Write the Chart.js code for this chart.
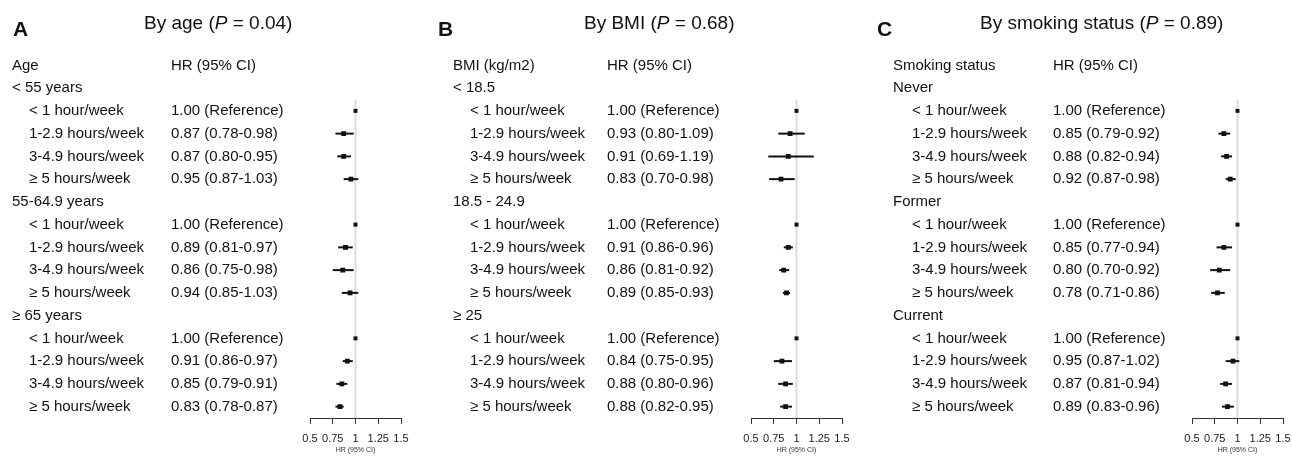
<!DOCTYPE html>
<html>
<head>
<meta charset="utf-8">
<script src="https://cdn.jsdelivr.net/npm/chart.js@4.4.1/dist/chart.umd.min.js"></script>
<style>
html,body{margin:0;padding:0;background:#fff;overflow:hidden;}
#wrap{position:relative;width:1292px;height:457px;overflow:hidden;}
#wrap canvas{position:absolute;left:0;top:0;}
</style>
</head>
<body>
<div id="wrap">
<canvas id="cA" width="1320" height="457"></canvas>
<canvas id="cB" width="1320" height="457"></canvas>
<canvas id="cC" width="1320" height="457"></canvas>
</div>
<script>
// ---------- data ----------
const subgroupLabels = ['< 1 hour/week', '1-2.9 hours/week', '3-4.9 hours/week', '≥ 5 hours/week'];
const xTickValues = [0.5, 0.75, 1, 1.25, 1.5];
const axisTitle = 'HR (95% CI)';
const columnHeaderHR = 'HR (95% CI)';

const ageGroups = ['< 55 years', '55-64.9 years', '≥ 65 years'];
const ageHR   = [1.00, 0.87, 0.87, 0.95, 1.00, 0.89, 0.86, 0.94, 1.00, 0.91, 0.85, 0.83];
const ageLow  = [null, 0.78, 0.80, 0.87, null, 0.81, 0.75, 0.85, null, 0.86, 0.79, 0.78];
const ageHigh = [null, 0.98, 0.95, 1.03, null, 0.97, 0.98, 1.03, null, 0.97, 0.91, 0.87];

const bmiGroups = ['< 18.5', '18.5 - 24.9', '≥ 25'];
const bmiHR   = [1.00, 0.93, 0.91, 0.83, 1.00, 0.91, 0.86, 0.89, 1.00, 0.84, 0.88, 0.88];
const bmiLow  = [null, 0.80, 0.69, 0.70, null, 0.86, 0.81, 0.85, null, 0.75, 0.80, 0.82];
const bmiHigh = [null, 1.09, 1.19, 0.98, null, 0.96, 0.92, 0.93, null, 0.95, 0.96, 0.95];

const smokeGroups = ['Never', 'Former', 'Current'];
const smokeHR   = [1.00, 0.85, 0.88, 0.92, 1.00, 0.85, 0.80, 0.78, 1.00, 0.95, 0.87, 0.89];
const smokeLow  = [null, 0.79, 0.82, 0.87, null, 0.77, 0.70, 0.71, null, 0.87, 0.81, 0.83];
const smokeHigh = [null, 0.92, 0.94, 0.98, null, 0.94, 0.92, 0.86, null, 1.02, 0.94, 0.96];

const panelLetters = ['A', 'B', 'C'];
const panelTitles = ['By age', 'By BMI', 'By smoking status'];
const panelP = ['0.04', '0.68', '0.89'];
const panelHeaders = ['Age', 'BMI (kg/m2)', 'Smoking status'];

// ---------- layout (positions/styles only) ----------
const FAMILY = '"Liberation Sans", Arial, Helvetica, sans-serif';
const layouts = [
  {canvas:'cA', letterX:13,  titleX:144, labelX:12,  subX:29,  hrX:171,  x0:310,  x1:401},
  {canvas:'cB', letterX:438, titleX:584, labelX:453, subX:470, hrX:607,  x0:751,  x1:842},
  {canvas:'cC', letterX:877, titleX:980, labelX:893, subX:912, hrX:1053, x0:1192, x1:1283}
];
const W = 1320, H = 457;
const TOP_PAD = 54, AXIS_H = 39;

const panelsData = [
  {groups: ageGroups,   hr: ageHR,   lo: ageLow,   hi: ageHigh},
  {groups: bmiGroups,   hr: bmiHR,   lo: bmiLow,   hi: bmiHigh},
  {groups: smokeGroups, hr: smokeHR, lo: smokeLow, hi: smokeHigh}
];

function fmt(v){ return v.toFixed(2); }

function buildPanel(pi){
  const L = layouts[pi];
  const d = panelsData[pi];
  const rows = [];
  d.groups.forEach((g, gi) => {
    rows.push({type:'group', text:g, idx: 1 + gi*5});
    subgroupLabels.forEach((s, si) => {
      const k = gi*4 + si;
      rows.push({type:'sub', text:s, idx: 2 + gi*5 + si, k});
    });
  });
  const subRows = rows.filter(r => r.type === 'sub');

  const datasets = [];
  datasets.push({
    type:'scatter',
    data: subRows.map(r => ({x: d.hr[r.k], y: r.idx})),
    pointStyle:'rect',
    pointRadius: subRows.map(r => d.lo[r.k] == null ? 2.8 : 3.4),
    backgroundColor:'#111', borderColor:'#111', borderWidth:0,
    order:1
  });
  subRows.forEach(r => {
    if (d.lo[r.k] == null) return;
    datasets.push({
      type:'scatter',
      data:[{x:d.lo[r.k], y:r.idx}, {x:d.hi[r.k], y:r.idx}],
      showLine:true, borderColor:'#111', borderWidth:2,
      pointRadius:0, order:2
    });
  });
  datasets.push({
    type:'scatter',
    data:[{x:1, y:1.5}, {x:1, y:15.5}],
    showLine:true, borderColor:'#dcdcdc', borderWidth:2,
    pointRadius:0, order:3
  });

  const textPlugin = {
    id:'forestText' + pi,
    afterDraw(chart){
      const ctx = chart.ctx;
      const ys = chart.scales.y;
      ctx.save();
      ctx.fillStyle = '#111';
      ctx.textBaseline = 'middle';
      ctx.textAlign = 'left';
      ctx.font = 'bold 21px ' + FAMILY;
      ctx.fillText(panelLetters[pi], L.letterX, 30);
      let x = L.titleX;
      const parts = [
        {t: panelTitles[pi] + ' (', f: '19px ' + FAMILY},
        {t: 'P', f: 'italic 19px ' + FAMILY},
        {t: ' = ' + panelP[pi] + ')', f: '19px ' + FAMILY}
      ];
      parts.forEach(p => { ctx.font = p.f; ctx.fillText(p.t, x, 24); x += ctx.measureText(p.t).width; });
      ctx.font = '15px ' + FAMILY;
      const y0 = ys.getPixelForValue(0);
      ctx.fillText(panelHeaders[pi], L.labelX, y0);
      ctx.fillText(columnHeaderHR, L.hrX, y0);
      rows.forEach(r => {
        const y = ys.getPixelForValue(r.idx);
        if (r.type === 'group') {
          ctx.fillText(r.text, L.labelX, y);
        } else {
          ctx.fillText(r.text, L.subX, y);
          const lo = d.lo[r.k], hi = d.hi[r.k], hr = d.hr[r.k];
          const t = lo == null ? fmt(hr) + ' (Reference)' : fmt(hr) + ' (' + fmt(lo) + '-' + fmt(hi) + ')';
          ctx.fillText(t, L.hrX, y);
        }
      });
      ctx.restore();
    }
  };

  new Chart(document.getElementById(L.canvas), {
    type:'scatter',
    data:{datasets},
    options:{
      responsive:false,
      animation:false,
      events:[],
      layout:{padding:{left:L.x0, right:W - L.x1, top:TOP_PAD, bottom:0}},
      plugins:{legend:{display:false}, tooltip:{enabled:false}, title:{display:false}},
      scales:{
        x:{
          type:'linear', min:0.5, max:1.5,
          afterBuildTicks: s => { s.ticks = xTickValues.map(v => ({value:v})); },
          afterFit: s => { s.height = AXIS_H; },
          grid:{drawOnChartArea:false, drawTicks:true, tickLength:6, color:'#333', lineWidth:1},
          border:{display:true, color:'#333', width:1},
          ticks:{font:{size:11, family:FAMILY}, color:'#1a1a1a', padding:8, maxRotation:0, autoSkip:false,
                 callback: v => String(v)},
          title:{display:true, text:axisTitle, font:{size:7, family:FAMILY}, color:'#333', padding:{top:0, bottom:3}}
        },
        y:{type:'linear', display:false, reverse:true, min:-0.5, max:15.5}
      }
    },
    plugins:[textPlugin]
  });
}

[0,1,2].forEach(buildPanel);
</script>
</body>
</html>
